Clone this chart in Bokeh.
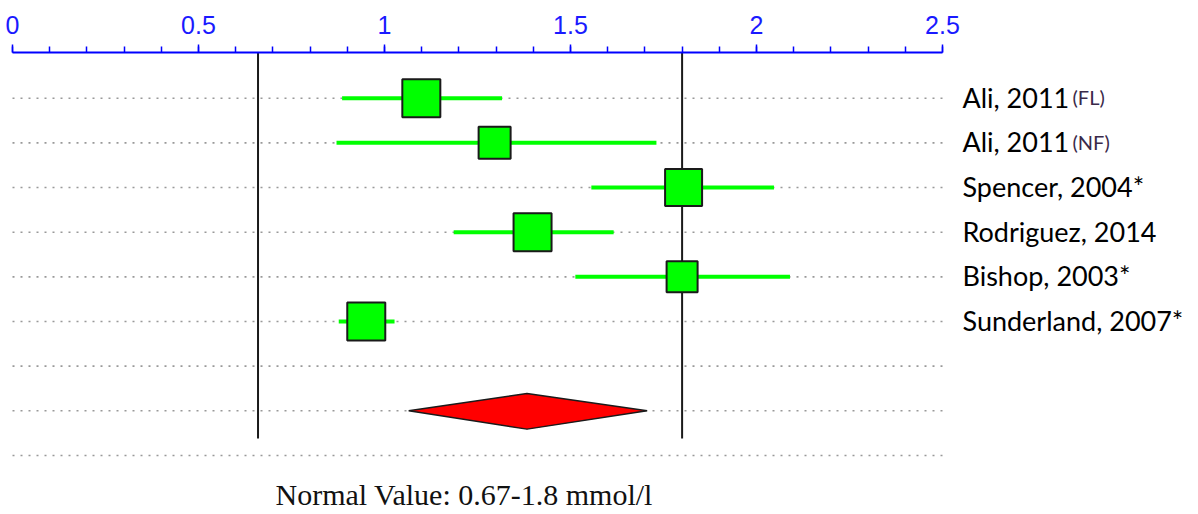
from bokeh.plotting import figure
from bokeh.models import Range1d, SingleIntervalTicker, ColumnDataSource
from bokeh.core.properties import value
from bokeh.embed import file_html
from bokeh.resources import INLINE

# ---- data ----
studies = ["Ali, 2011", "Ali, 2011", "Spencer, 2004*", "Rodriguez, 2014", "Bishop, 2003*", "Sunderland, 2007*"]
subgroups = ["(FL)", "(NF)", "", "", "", ""]
means = [1.099, 1.296, 1.804, 1.398, 1.800, 0.951]
lowers = [0.886, 0.871, 1.556, 1.186, 1.513, 0.877]
uppers = [1.316, 1.731, 2.047, 1.616, 2.090, 1.027]
weights = [38, 32, 37, 38, 31, 38]
pooled_mean = 1.383
pooled_lower = 1.065
pooled_upper = 1.706
normal_range = [0.66, 1.8]
x_ticks_interval = 0.5
caption = "Normal Value: 0.67-1.8 mmol/l"

n = len(studies)
rows = list(range(1, n + 1))
pooled_row = n + 2
all_rows = list(range(1, n + 4))

W, H = 1198, 514
TOP = 52
px_per_unit = 372.0
row_px = 44.66
x0 = -12 / px_per_unit
x1 = (W - 12) / px_per_unit
y_top = 1 - 45.7 / row_px
y_bot = y_top + (H - TOP) / row_px

def px_to_x(px):
    return (px - 12) / px_per_unit

def px_to_y(py):
    return y_top + (py - TOP) / row_px

p = figure(width=W, height=H, output_backend="svg", toolbar_location=None,
           x_range=Range1d(x0, x1), y_range=Range1d(y_bot, y_top),
           x_axis_location="above", y_axis_location=None,
           min_border=0, min_border_top=TOP, min_border_left=0,
           min_border_right=0, min_border_bottom=0)
p.outline_line_color = None
p.grid.visible = False
p.background_fill_color = "white"
p.border_fill_color = "white"

ax = p.xaxis[0]
ax.ticker = SingleIntervalTicker(interval=x_ticks_interval, num_minor_ticks=5)
ax.bounds = (0, 2.5)
ax.axis_line_color = "#0000ff"
ax.axis_line_width = 2
ax.major_tick_line_color = "#0000ff"
ax.minor_tick_line_color = "#0000ff"
ax.major_tick_line_width = 1.5
ax.minor_tick_line_width = 1.5
ax.major_tick_in = 0
ax.major_tick_out = 8
ax.minor_tick_in = 0
ax.minor_tick_out = 6
ax.major_label_text_color = "#1a1aff"
ax.major_label_text_font = "Liberation Sans"
ax.major_label_text_font_size = "25px"
ax.major_label_standoff = 11

# dotted row lines
p.segment(x0=[0] * len(all_rows), x1=[2.5] * len(all_rows), y0=all_rows, y1=all_rows,
          line_color="#999999", line_width=1.6, line_dash="2 6")

# normal range vertical lines
line_bottom = pooled_row + 0.62
p.segment(x0=normal_range, x1=normal_range, y0=[y_top] * 2, y1=[line_bottom] * 2,
          line_color="#1a1a1a", line_width=2)

# CIs
src = ColumnDataSource(dict(y=rows, m=means, lo=lowers, hi=uppers, w=weights,
                            name=studies, sub=subgroups))
p.segment(x0="lo", x1="hi", y0="y", y1="y", source=src, line_color="#00ff00", line_width=4)
p.scatter(x="m", y="y", size="w", marker="square", source=src,
          fill_color="#00ff00", line_color="#1a1a1a", line_width=2)

# pooled diamond
p.patch(x=[pooled_lower, pooled_mean, pooled_upper, pooled_mean],
        y=[pooled_row, pooled_row - 0.39, pooled_row, pooled_row + 0.41],
        fill_color="#ff0000", line_color="#1a1a1a", line_width=1.5)

# study labels
p.text(x=px_to_x(962), y="y", text="name", source=src, text_font=value("Lato"),
       text_font_size="27px", text_color="#000000", text_baseline="alphabetic",
       text_align="left", y_offset=-1)
p.text(x=px_to_x(1072), y="y", text="sub", source=src, text_font=value("Lato"),
       text_font_size="20px", text_color="#3a2a4a", text_baseline="alphabetic",
       text_align="left", y_offset=-1)

# caption
p.text(x=[px_to_x(275)], y=[px_to_y(494)], text=[caption], text_font=value("Liberation Serif"),
       text_font_size="30px", text_color="#111111", text_baseline="middle",
       text_align="left")

open("out.html", "w").write(file_html(p, INLINE))
